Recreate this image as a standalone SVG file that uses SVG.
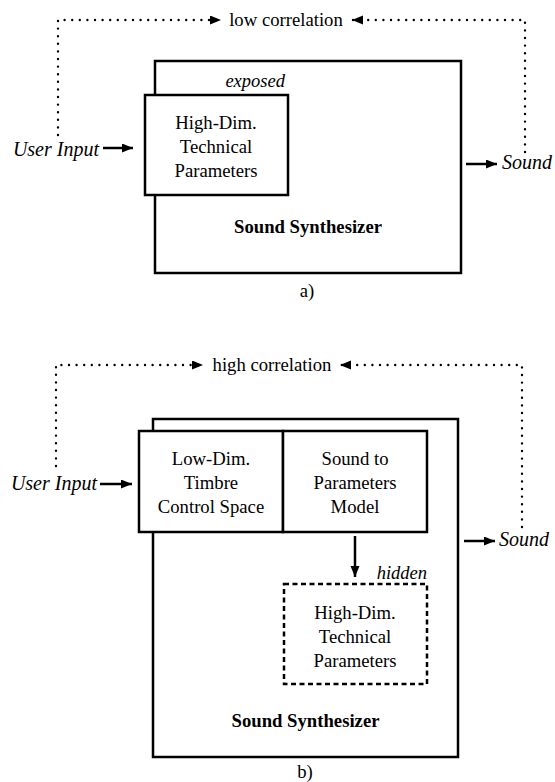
<svg xmlns="http://www.w3.org/2000/svg" width="555" height="782" viewBox="0 0 555 782">
<style>
text{font-family:"Liberation Serif","Times New Roman",serif;fill:#000}
.t{font-size:18.7px;text-anchor:middle}
.b{font-size:18.7px;font-weight:bold;text-anchor:middle}
.lab{font-size:20px;font-style:italic}
.tag{font-size:18.5px;font-style:italic;text-anchor:end}
.box{fill:#fff;stroke:#000;stroke-width:2.5}
.dash{fill:#fff;stroke:#000;stroke-width:2.5;stroke-dasharray:5 3.5}
.dot{fill:none;stroke:#000;stroke-width:2.4;stroke-linecap:round;stroke-dasharray:0 7.6}
.arr{fill:none;stroke:#000;stroke-width:2.5}
</style>
<defs>
<marker id="ah" markerUnits="userSpaceOnUse" markerWidth="12" markerHeight="10" refX="11" refY="4.5" orient="auto">
<path d="M0,0 L11,4.5 L0,9 Z" fill="#000"/>
</marker>
</defs>
<rect width="555" height="782" fill="#fff"/>

<!-- Panel a -->
<g id="synth-a">
<rect class="box" x="155" y="61" width="306" height="212"/>
<text class="b" x="308" y="233">Sound Synthesizer</text>
</g>
<g id="params-a">
<rect class="box" x="145" y="95" width="143" height="100"/>
<text class="t" x="216" y="129">High-Dim.</text>
<text class="t" x="216" y="153">Technical</text>
<text class="t" x="216" y="177">Parameters</text>
<text class="tag" x="285" y="87">exposed</text>
</g>
<g id="input-a"><text class="lab" x="99" y="156" text-anchor="end">User Input</text></g>
<g id="sound-a"><text class="lab" x="502" y="169">Sound</text></g>
<g id="corr-a"><text class="t" x="286" y="26">low correlation</text></g>
<text class="t" x="307" y="297">a)</text>

<!-- Panel b -->
<g id="synth-b">
<rect class="box" x="153" y="419" width="305" height="338"/>
<text class="b" x="305.5" y="727">Sound Synthesizer</text>
</g>
<g id="timbre-b">
<rect class="box" x="139" y="431" width="144" height="101"/>
<text class="t" x="211" y="465">Low-Dim.</text>
<text class="t" x="211" y="489">Timbre</text>
<text class="t" x="211" y="513">Control Space</text>
</g>
<g id="model-b">
<rect class="box" x="283" y="431" width="144" height="101"/>
<text class="t" x="355" y="465">Sound to</text>
<text class="t" x="355" y="489">Parameters</text>
<text class="t" x="355" y="513">Model</text>
</g>
<g id="params-b">
<rect class="dash" x="284" y="584" width="143" height="100"/>
<text class="t" x="355" y="619">High-Dim.</text>
<text class="t" x="355" y="643">Technical</text>
<text class="t" x="355" y="667">Parameters</text>
<text class="tag" x="427" y="579">hidden</text>
</g>
<g id="input-b"><text class="lab" x="97" y="490" text-anchor="end">User Input</text></g>
<g id="sound-b"><text class="lab" x="499" y="546">Sound</text></g>
<g id="corr-b"><text class="t" x="272" y="371">high correlation</text></g>
<text class="t" x="305" y="778">b)</text>

<g id="connectors">
<path class="dot" d="M58,135 L58,20 L221,20" marker-end="url(#ah)"/>
<path class="dot" d="M525,152 L525,20 L352,20" marker-end="url(#ah)"/>
<path class="arr" d="M103,148 L133,148" marker-end="url(#ah)"/>
<path class="arr" d="M466,164 L497,164" marker-end="url(#ah)"/>
<path class="dot" d="M56,466 L56,365 L203,365" marker-end="url(#ah)"/>
<path class="dot" d="M522,527 L522,365 L340,365" marker-end="url(#ah)"/>
<path class="arr" d="M100,484 L132,484" marker-end="url(#ah)"/>
<path class="arr" d="M464,541 L495,541" marker-end="url(#ah)"/>
<path class="arr" d="M355,536 L355,577" marker-end="url(#ah)"/>
</g>
</svg>
